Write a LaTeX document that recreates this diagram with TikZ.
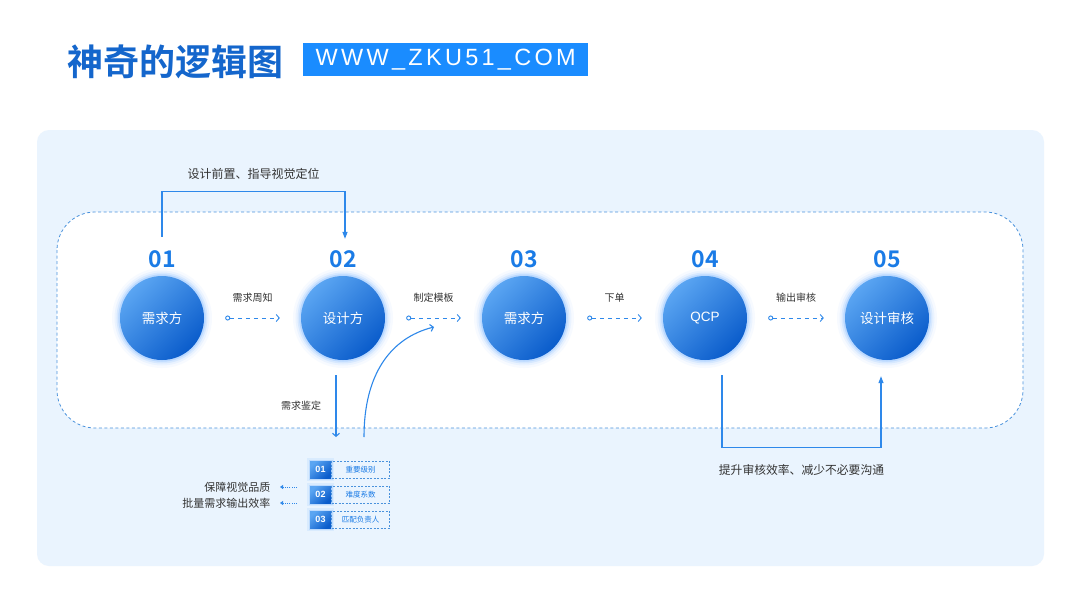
\documentclass[tikz,border=0pt]{standalone}
\usepackage{fontspec}
\setmainfont{Liberation Sans}
\newfontfamily\cjk{Noto Sans CJK SC}[BoldFont={Noto Sans CJK SC Bold}]
\newfontfamily\webfont{Liberation Sans}[LetterSpace=14]
\usetikzlibrary{arrows.meta}

\definecolor{mainblue}{HTML}{1A7BE6}
\definecolor{titleblue}{HTML}{1466CC}
\definecolor{tagblue}{HTML}{1A8CFF}
\definecolor{panelbg}{HTML}{EAF4FE}
\definecolor{dashblue}{HTML}{4A92DC}
\definecolor{balllight}{HTML}{5AA5F2}
\definecolor{balldark}{HTML}{0A5CCB}
\definecolor{glowblue}{HTML}{7DB8FF}
\definecolor{linkblue}{HTML}{2E88EA}
\definecolor{textgray}{HTML}{333333}

\begin{document}
\begin{tikzpicture}[x=1pt, y=-1pt,
    ball/.style={circle, minimum size=84pt, inner sep=0pt,
        top color=balllight, bottom color=balldark, shading angle=45,
        text=white, font=\cjk\fontsize{13.5}{13.5}\selectfont,
        preaction={draw=glowblue, line width=16pt, draw opacity=0.06},
        preaction={draw=glowblue, line width=11pt, draw opacity=0.1},
        preaction={draw=glowblue, line width=7pt, draw opacity=0.18},
        preaction={draw=glowblue, line width=3.5pt, draw opacity=0.3}},
    num/.style={text=mainblue, font=\cjk\bfseries\fontsize{23}{23}\selectfont},
    tip/.style={text=textgray, font=\cjk\fontsize{10}{10}\selectfont},
    flow/.style={linkblue, line width=0.9pt, dash pattern=on 4pt off 4pt,
        {Circle[open, length=5pt, width=5pt]}-{Straight Barb[length=3pt, width=7pt]},
        shorten <=21pt, shorten >=21pt},
    link/.style={linkblue, line width=1.1pt, -{Straight Barb[length=3pt, width=7pt]}},
    bracket/.style={linkblue, line width=1.2pt, -{Triangle[length=7pt, width=5pt]}},
    numsq/.style={minimum width=21pt, minimum height=17pt, inner sep=0pt,
        top color=balllight, bottom color=balldark, shading angle=45,
        text=white, font=\bfseries\fontsize{9}{9}\selectfont,
        preaction={draw=glowblue, line width=6pt, draw opacity=0.15},
        preaction={draw=glowblue, line width=3pt, draw opacity=0.3}},
    cellbox/.style={draw=dashblue, dash pattern=on 2pt off 1.5pt, line width=0.6pt,
        minimum width=58pt, minimum height=17pt, inner sep=0pt,
        text=mainblue, font=\cjk\fontsize{7.5}{7.5}\selectfont},
    dotarrow/.style={linkblue, line width=0.8pt, dash pattern=on 1pt off 1.2pt,
        -{Triangle[length=3pt, width=4pt]}, shorten >=6pt}]

    \useasboundingbox (0,0) rectangle (1080,608);
    \fill[white] (0,0) rectangle (1080,608);

    % title bar
    \node[anchor=west, text=titleblue, font=\cjk\bfseries\fontsize{36}{36}\selectfont] (title) at (64,62) {神奇的逻辑图};
    \node[anchor=west, fill=tagblue, minimum width=285pt, minimum height=33pt, inner sep=0pt,
        text=white, font=\webfont\fontsize{23.5}{23.5}\selectfont] (site) at (303,59.5) {WWW\_ZKU51\_COM};

    % panels
    \fill[panelbg, rounded corners=12pt] (37,130) rectangle (1044,566);
    \draw[dashblue, line width=0.8pt, dash pattern=on 3pt off 2.5pt, fill=white, rounded corners=38pt] (57,212) rectangle (1023,428);

    % steps
    \node[ball] (c1) at (162,318) {需求方};
    \node[ball] (c2) at (343,318) {设计方};
    \node[ball] (c3) at (524,318) {需求方};
    \node[ball, font=\fontsize{13.5}{13.5}\selectfont] (c4) at (705,318) {QCP};
    \node[ball] (c5) at (887,318) {设计审核};

    \node[num] (n1) at (162,259) {01};
    \node[num] (n2) at (343,259) {02};
    \node[num] (n3) at (524,259) {03};
    \node[num] (n4) at (705,259) {04};
    \node[num] (n5) at (887,259) {05};

    % flow between steps
    \draw[flow] (c1) -- node[tip, above=12pt] (l1) {需求周知} (c2);
    \draw[flow] (c2) -- node[tip, above=12pt] (l2) {制定模板} (c3);
    \draw[flow] (c3) -- node[tip, above=12pt] (l3) {下单} (c4);
    \draw[flow] (c4) -- node[tip, above=12pt] (l4) {输出审核} (c5);

    % top bracket
    \draw[bracket] ([yshift=10pt]n1.north) -- ++(0,-45)
        -| node[pos=0.25, above=8pt, tip, font=\cjk\fontsize{12}{12}\selectfont] (l5) {设计前置、指导视觉定位}
        ([xshift=2pt, yshift=8pt]n2.north);

    % check list
    \node[numsq] (sq1) at (320.5,469.5) {01};
    \node[numsq] (sq2) at (320.5,494.5) {02};
    \node[numsq] (sq3) at (320.5,519.5) {03};
    \node[cellbox, anchor=west] (bx1) at (sq1.east) {重要级别};
    \node[cellbox, anchor=west] (bx2) at (sq2.east) {难度系数};
    \node[cellbox, anchor=west] (bx3) at (sq3.east) {匹配负责人};

    \coordinate (down) at (336,437);
    \coordinate (up) at (364,437);
    \draw[link] ([xshift=-7pt, yshift=-15pt]c2.south) -- node[tip, left=11pt] (l6) {需求鉴定} (down);
    \draw[link] (up) .. controls (364,375) and (390,338) .. (434,327);

    \node[tip, anchor=east, font=\cjk\fontsize{11}{11}\selectfont] (g1) at (274,487) {保障视觉品质};
    \node[tip, anchor=east, font=\cjk\fontsize{11}{11}\selectfont] (g2) at (274,503) {批量需求输出效率};
    \coordinate (d1) at (297,487);
    \coordinate (d2) at (297,503);
    \draw[dotarrow] (d1) -- (g1);
    \draw[dotarrow] (d2) -- (g2);

    % bottom bracket
    \draw[bracket] ([xshift=17pt, yshift=-15pt]c4.south) -- ++(0,72)
        -| node[pos=0.25, below=13pt, tip, font=\cjk\fontsize{11.8}{11.8}\selectfont] (l7) {提升审核效率、减少不必要沟通}
        ([xshift=-6pt, yshift=-16pt]c5.south);
\end{tikzpicture}
\end{document}
